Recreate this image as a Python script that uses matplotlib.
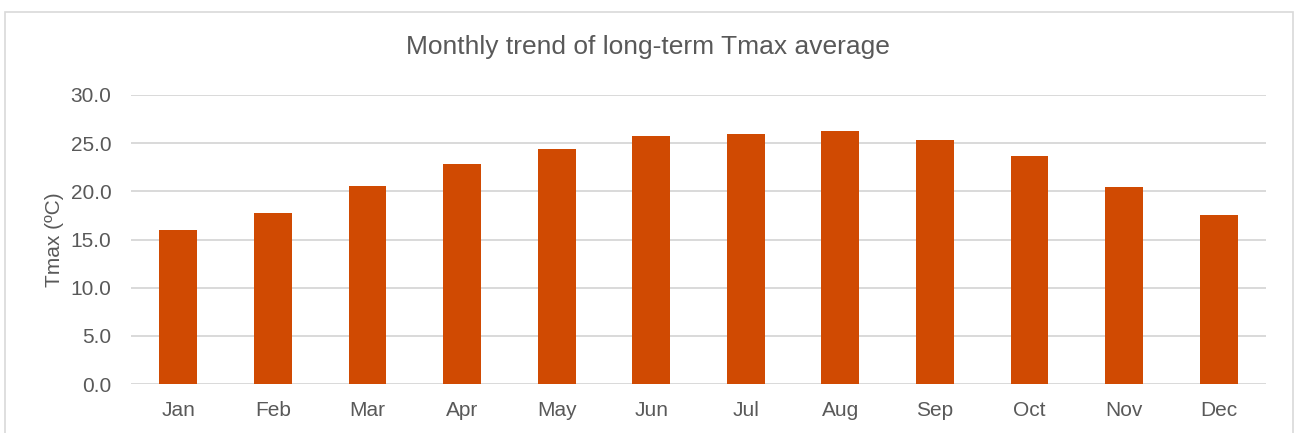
import matplotlib
matplotlib.use("Agg")
import matplotlib.pyplot as plt
from matplotlib.patches import Rectangle

# data
months = ["Jan", "Feb", "Mar", "Apr", "May", "Jun",
          "Jul", "Aug", "Sep", "Oct", "Nov", "Dec"]
tmax = [16.0, 17.7, 20.6, 22.8, 24.4, 25.7, 25.9, 26.3, 25.3, 23.7, 20.5, 17.5]
y_ticks = [0, 5, 10, 15, 20, 25, 30]

TEXT = "#595959"
GRID = "#D9D9D9"
BAR = "#D04A02"

plt.rcParams["font.family"] = ["Liberation Sans", "DejaVu Sans"]

fig = plt.figure(figsize=(12.95, 4.33), dpi=100)
ax = fig.add_axes([131 / 1295, 1 - 384 / 433, 1135 / 1295, 289 / 433])

# chart border like the spreadsheet frame
fig.patches.append(Rectangle((5 / 1295, -0.1), 1288 / 1295, 1.1 - 12 / 433,
                             transform=fig.transFigure, fill=False,
                             edgecolor=GRID, linewidth=1.2))

x = range(len(months))
ax.bar(x, tmax, width=0.4, color=BAR, zorder=3)

ax.set_xlim(-0.5, len(months) - 0.5)
ax.set_ylim(0, 30)
ax.set_yticks(y_ticks)
ax.set_yticklabels([f"{v:.1f}" for v in y_ticks])
ax.set_xticks(list(x))
ax.set_xticklabels(months)

ax.grid(axis="y", color=GRID, linewidth=1.4, zorder=0)
ax.set_axisbelow(True)
for side in ["top", "right", "left", "bottom"]:
    ax.spines[side].set_visible(False)
ax.tick_params(axis="both", length=0, labelsize=15, colors=TEXT)
ax.tick_params(axis="x", pad=12)
ax.tick_params(axis="y", pad=14)

ax.set_ylabel("Tmax (ºC)", fontsize=15, color=TEXT, labelpad=5)
fig.text(0.5, 1 - 47 / 433, "Monthly trend of long-term Tmax average",
         ha="center", va="center", fontsize=19, color=TEXT)

fig.savefig("out.png", dpi=100)
